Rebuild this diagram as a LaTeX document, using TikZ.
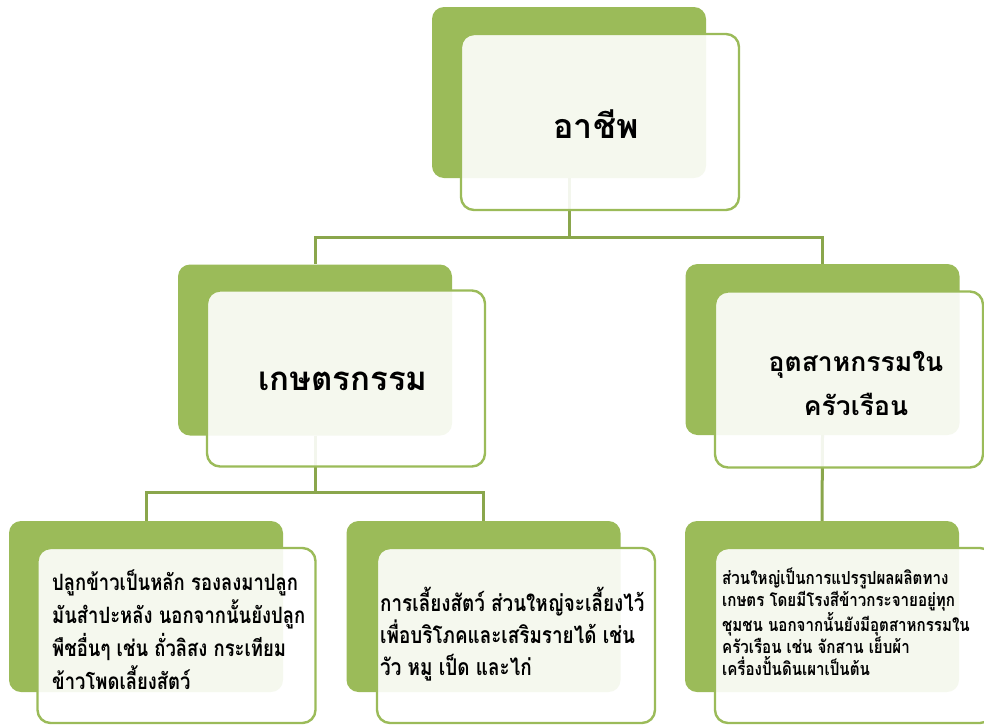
\documentclass[tikz,border=0pt]{standalone}
\usepackage{fontspec}
\newfontfamily\thaifont[Script=Thai]{Loma}
\newfontfamily\thaicond[Script=Thai,FakeStretch=0.82]{Loma}
\newfontfamily\thaicondb[Script=Thai,FakeStretch=0.84]{Loma}
\definecolor{olive}{HTML}{9BBB59}
\definecolor{connc}{HTML}{8AA64C}
\begin{document}
\begin{tikzpicture}[x=1pt,y=-1pt,
  greenbox/.style={fill=olive,rounded corners=12pt,inner sep=0pt,minimum width=274pt,minimum height=171pt},
  whitebox/.style={fill=white,fill opacity=0.9,draw=olive,line width=2.4pt,rounded corners=13pt,inner sep=0pt,minimum width=278pt,minimum height=176pt},
  conn/.style={draw=connc,line width=3pt},
  title/.style={font=\thaifont\bfseries,text=black,align=center,inner sep=0pt},
  body/.style={font=\thaicond\bfseries,text=black,align=left,inner sep=0pt,anchor=west}]
\useasboundingbox (0,0) rectangle (984,726);
\clip (0,0) rectangle (984,726);
% green back boxes
\node[greenbox] (g0) at (569,92.5) {};
\node[greenbox] (g1) at (315,350) {};
\node[greenbox] (g2) at (822.5,349.5) {};
\node[greenbox] (g3) at (146,606.5) {};
\node[greenbox] (g4) at (483.5,606.5) {};
\node[greenbox] (g5) at (822,606.5) {};
% connectors
\coordinate (j0) at (569,237.5);
\coordinate (j1) at (315,492);
\draw[conn] (g0.south) -- (j0) -| (g1.north);
\draw[conn] (j0) -| (g2.north);
\draw[conn] (g1.south) -- (j1) -| (g3.north);
\draw[conn] (j1) -| (g4.north);
\draw[conn] (g2.south) -- (g5.north);
% white front boxes
\node[whitebox] (w0) at (600,122) {};
\node[whitebox] (w1) at (346,378.5) {};
\node[whitebox,minimum width=268pt] (w2) at (849,379.5) {};
\node[whitebox,minimum height=175pt] (w3) at (176.5,635.5) {};
\node[whitebox,minimum height=175pt] (w4) at (516,635.5) {};
\node[whitebox,minimum height=175pt] (w5) at (854,635.5) {};
% texts
\node[title,font=\thaifont\bfseries\fontsize{34}{40}\selectfont] (t0) at (596,124) {อาชีพ};
\node[title,font=\thaifont\bfseries\fontsize{33}{38}\selectfont] (t1) at (343,381) {เกษตรกรรม};
\node[title,font=\thaifont\bfseries\fontsize{26.5}{44}\selectfont] (t2) at (856,383) {อุตสาหกรรมใน\\ครัวเรือน};
\node[body,font=\thaicond\bfseries\fontsize{22.5}{33}\selectfont] (t3) at (52,630) {ปลูกข้าวเป็นหลัก รองลงมาปลูก\\มันสำปะหลัง นอกจากนั้นยังปลูก\\พืชอื่นๆ เช่น ถั่วลิสง กระเทียม\\ข้าวโพดเลี้ยงสัตว์};
\node[body,font=\thaicond\bfseries\fontsize{23}{32}\selectfont] (t4) at (380,634) {การเลี้ยงสัตว์ ส่วนใหญ่จะเลี้ยงไว้\\เพื่อบริโภคและเสริมรายได้ เช่น\\วัว หมู เป็ด และไก่};
\node[body,font=\thaicondb\bfseries\fontsize{18}{22}\selectfont] (t5) at (722,622) {ส่วนใหญ่เป็นการแปรรูปผลผลิตทาง\\เกษตร โดยมีโรงสีข้าวกระจายอยู่ทุก\\ชุมชน นอกจากนั้นยังมีอุตสาหกรรมใน\\ครัวเรือน เช่น จักสาน เย็บผ้า\\เครื่องปั้นดินเผาเป็นต้น};
\end{tikzpicture}
\end{document}
